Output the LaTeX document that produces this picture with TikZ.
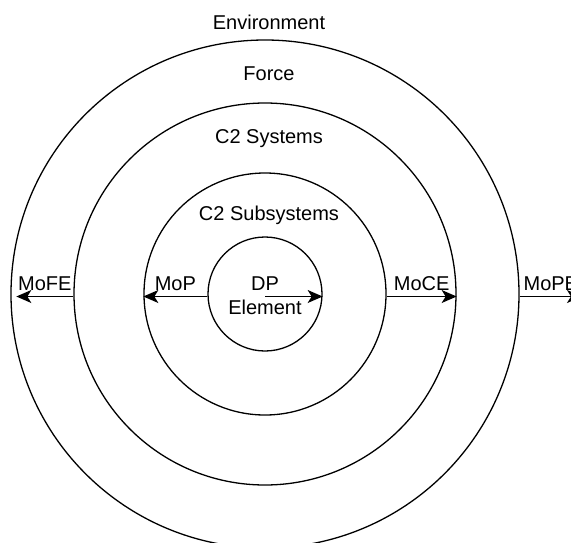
\documentclass[tikz,border=0pt]{standalone}
\usepackage{fontspec}
\setmainfont{Liberation Sans}
\usetikzlibrary{arrows.meta,positioning}

\begin{document}
\begin{tikzpicture}[x=1pt,y=-1pt,->,>={Stealth[length=15pt,width=13pt,inset=4pt]},
                    line width=1.3pt,font=\fontsize{20pt}{24pt}\selectfont]
  \tikzstyle{ring}=[circle,draw=black,fill=none,inner sep=0pt]
  \tikzstyle{lbl}=[inner sep=0pt]
  \tikzstyle{arr}=[above=5.5pt,inner sep=0pt,midway]

  \clip (0,0) rectangle (571,542);

  % rings, outermost first
  \node[ring,minimum size=508pt] (E) at (265,294) {};
  \node[ring,minimum size=382pt] (F) at (265,294) {};
  \node[ring,minimum size=242pt] (S) at (265,294) {};
  \node[ring,minimum size=114pt] (D) at (265,294) {};

  \node[lbl] (env) at (269,22)  {Environment};
  \node[lbl] (frc) at (269,74)  {Force};
  \node[lbl] (sys) at (269,139) {C2 Systems};
  \node[lbl] (sub) at (269,215) {C2 Subsystems};
  \node[lbl,align=center] (dp) at (265,296) {DP\\Element};

  \coordinate (mope) at (582,296.5);

  \draw ([yshift=-2.5pt]F.west) -- ([yshift=-2.5pt,xshift=6pt]E.west) node[arr] {MoFE};
  \draw ([yshift=-2.5pt]D.west) -- ([yshift=-2.5pt]S.west) node[arr] {MoP};
  \draw ([yshift=-2.5pt]D.center) -- ([yshift=-2.5pt]D.east);
  \draw ([yshift=-2.5pt]S.east) -- ([yshift=-2.5pt]F.east) node[arr] {MoCE};
  \draw ([yshift=-2.5pt]E.east) -- (mope) node[arr] {MoPE};
\end{tikzpicture}
\end{document}
